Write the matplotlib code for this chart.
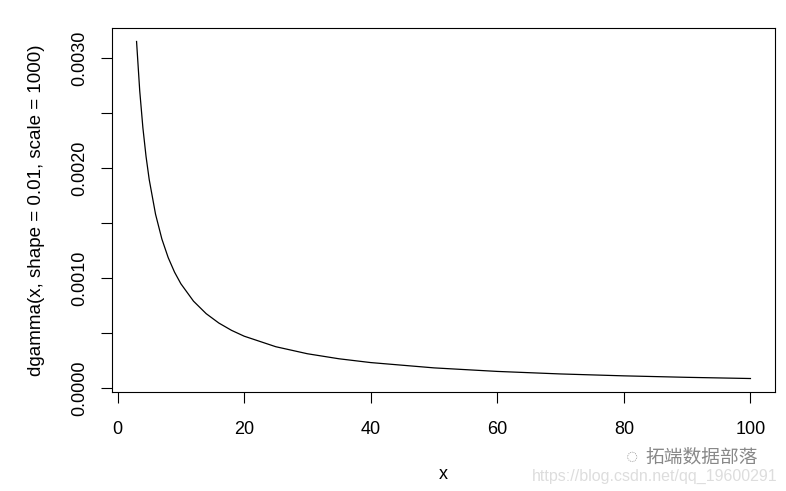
import matplotlib
matplotlib.use("Agg")
import matplotlib.pyplot as plt

# values
x_vals = [3, 3.5, 4, 4.5, 5, 6, 7, 8, 9, 10, 12, 14, 16, 18, 20, 25, 30, 35, 40, 50, 60, 70, 80, 90, 100]
y_vals = [0.003154, 0.002706, 0.0023697, 0.0021078, 0.0018981, 0.0015830, 0.0013576, 0.0011883,
          0.0010565, 0.00095088, 0.00079226, 0.00067877, 0.00059352, 0.00052714, 0.00047398,
          0.00037813, 0.00031411, 0.00026832, 0.00023391, 0.00018569, 0.00015347, 0.00013044,
          0.00011315, 0.0000997, 0.0000889]
x_ticks = [0, 20, 40, 60, 80, 100]
y_ticks = [0.0000, 0.0005, 0.0010, 0.0015, 0.0020, 0.0025, 0.0030]
y_labels = ["0.0000", "", "0.0010", "", "0.0020", "", "0.0030"]

plt.rcParams['font.family'] = ['Liberation Sans', 'DejaVu Sans']

fig = plt.figure(figsize=(7.86, 4.91), dpi=100)
ax = fig.add_axes([112/786, 1 - 392/491, (775-112)/786, (392-28)/491])
ax.plot(x_vals, y_vals, color='black', lw=0.9)

ax.set_xlim(-0.88, 103.88)
ax.set_ylim(-0.0000337, 0.0032766)
ax.set_xticks(x_ticks)
ax.set_xticklabels([str(t) for t in x_ticks])
ax.set_yticks(y_ticks)
ax.set_yticklabels(y_labels, rotation=90, va='center')
ax.tick_params(axis='both', direction='out', length=8, width=0.8, labelsize=13)
ax.tick_params(axis='x', pad=13)
ax.tick_params(axis='y', pad=9)
for s in ax.spines.values():
    s.set_linewidth(0.8)

ax.set_xlabel('x', fontsize=13, labelpad=20)
ax.set_ylabel('dgamma(x, shape = 0.01, scale = 1000)', fontsize=13.5, labelpad=19)

# watermark
fig.text(702/786, 1 - 457/491, '拓端数据部落', family=['Noto Sans CJK SC', 'DejaVu Sans'],
         fontsize=13.5, color='#888888', ha='center', va='center')
fig.text(632/786, 1 - 457/491, '◌', fontsize=15, color='#aaaaaa', ha='center', va='center')
fig.text(655/786, 1 - 476/491, 'https://blog.csdn.net/qq_19600291', fontsize=11.5,
         color='#dddddd', ha='center', va='center')

fig.savefig('out.png', dpi=100)
